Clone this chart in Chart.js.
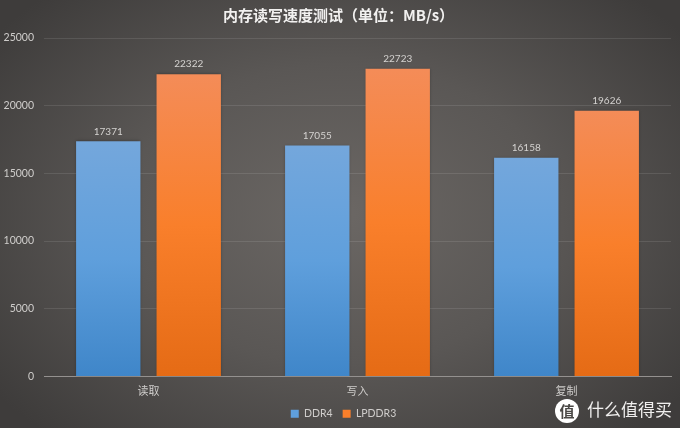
<!DOCTYPE html>
<html>
<head>
<meta charset="UTF-8">
<title>内存读写速度测试</title>
<script src="https://cdnjs.cloudflare.com/ajax/libs/Chart.js/4.4.1/chart.umd.js"></script>
<style>
	html, body { margin: 0; padding: 0; }
	body {
		width: 680px; height: 428px; overflow: hidden;
		background: radial-gradient(ellipse 430px 300px at 50% 50%, #6b6764 0%, #5a5755 50%, #3e3c3b 100%);
	}
	canvas { display: block; }
</style>
</head>
<body>
	<canvas id="bar-chart" width="680" height="428"></canvas>

	<script type="text/javascript">

	var categorias = ['读取', '写入', '复制'];
	var ddr4 = [17371, 17055, 16158];
	var lpddr3 = [22322, 22723, 19626];
	var titulo = '内存读写速度测试（单位：MB/s）';
	var marcaAgua = '什么值得买';

	var fuente = '"Noto Sans CJK SC", "Noto Sans", sans-serif';
	var numeros = 'Lato, "Open Sans", sans-serif';

	// vertical gradient for each bar, from its own top to the baseline
	function degradado(arriba, medio, abajo) {
		return function(context) {
			var chart = context.chart;
			if (!chart.chartArea || context.raw === undefined) return medio;
			var y = chart.scales.y;
			var g = chart.ctx.createLinearGradient(0, y.getPixelForValue(context.raw), 0, y.getPixelForValue(0));
			g.addColorStop(0, arriba);
			g.addColorStop(0.5, medio);
			g.addColorStop(1, abajo);
			return g;
		};
	}

	var sombras = {
		id: 'sombras',
		beforeDatasetDraw: function(chart) {
			chart.ctx.save();
			chart.ctx.shadowColor = 'rgba(0,0,0,0.35)';
			chart.ctx.shadowBlur = 3;
		},
		afterDatasetDraw: function(chart) {
			chart.ctx.restore();
		}
	};

	var etiquetas = {
		id: 'etiquetas',
		afterDatasetsDraw: function(chart) {
			var ctx = chart.ctx;
			ctx.save();
			ctx.font = '10px ' + numeros;
			ctx.fillStyle = '#d4d2d0';
			ctx.textAlign = 'center';
			ctx.textBaseline = 'bottom';
			chart.data.datasets.forEach(function(ds, i) {
				chart.getDatasetMeta(i).data.forEach(function(bar, j) {
					ctx.fillText(ds.data[j], bar.x, bar.y - 5);
				});
			});
			ctx.restore();
		}
	};

	// legend and title centre themselves a little too far left
	var mover = {
		id: 'mover',
		afterLayout: function(chart) {
			chart.legend.left += 8;
			chart.legend.right += 8;
			chart.legend.top += 1;
			chart.legend.bottom += 1;
			chart.titleBlock.left += 3;
			chart.titleBlock.right += 3;
		}
	};

	var logo = {
		id: 'logo',
		afterDraw: function(chart) {
			var ctx = chart.ctx;
			ctx.save();
			ctx.fillStyle = '#ffffff';
			ctx.beginPath();
			ctx.arc(567, 411, 12, 0, Math.PI * 2);
			ctx.fill();
			ctx.textBaseline = 'middle';
			ctx.textAlign = 'center';
			ctx.fillStyle = '#4a4846';
			ctx.font = 'bold 15px ' + fuente;
			ctx.fillText('值', 567, 411);
			ctx.textAlign = 'left';
			ctx.fillStyle = '#f0efee';
			ctx.font = '17px ' + fuente;
			ctx.fillText(marcaAgua, 587, 410);
			ctx.restore();
		}
	};

	new Chart(document.getElementById('bar-chart').getContext('2d'), {
		type: 'bar',
		data: {
			labels: categorias,
			datasets: [
				{ label: 'DDR4', data: ddr4, backgroundColor: degradado('#74a7dc', '#5f9fdc', '#3f86c9') },
				{ label: 'LPDDR3', data: lpddr3, backgroundColor: degradado('#f48c58', '#f97f2b', '#e56b15') }
			]
		},
		plugins: [sombras, etiquetas, mover, logo],
		options: {
			responsive: false,
			animation: false,
			categoryPercentage: 0.77,
			barPercentage: 0.8,
			layout: { padding: { top: 0, right: 9, bottom: 0, left: 0 } },
			plugins: {
				tooltip: { enabled: false },
				title: {
					display: true,
					text: titulo,
					color: '#f2f1f0',
					font: { family: fuente, size: 15, weight: 'bold' },
					padding: { top: 6, bottom: 14 }
				},
				legend: {
					position: 'bottom',
					labels: {
						color: '#cfcdcb',
						font: { family: numeros, size: 10.5 },
						boxWidth: 8,
						boxHeight: 8,
						padding: 10,
						generateLabels: function(chart) {
							return [
								{ text: 'DDR4', fillStyle: '#5f9fdc', strokeStyle: '#5f9fdc', lineWidth: 0, fontColor: '#cfcdcb', datasetIndex: 0 },
								{ text: 'LPDDR3', fillStyle: '#f97f2b', strokeStyle: '#f97f2b', lineWidth: 0, fontColor: '#cfcdcb', datasetIndex: 1 }
							];
						}
					}
				}
			},
			scales: {
				x: {
					afterFit: function(scale) { scale.height = 21; },
					grid: { display: false, drawTicks: false },
					border: { color: '#94918f', width: 1 },
					ticks: { color: '#cfcdcb', font: { family: fuente, size: 11 }, padding: 8 }
				},
				y: {
					min: 0,
					max: 25000,
					afterFit: function(scale) { scale.width = 44; },
					grid: { color: 'rgba(255,255,255,0.1)', drawTicks: false },
					border: { display: false },
					ticks: {
						stepSize: 5000,
						color: '#cfcdcb',
						font: { family: numeros, size: 10.5 },
						padding: 10,
						callback: function(v) { return String(v); }
					}
				}
			}
		}
	});

	</script>
</body>
</html>
